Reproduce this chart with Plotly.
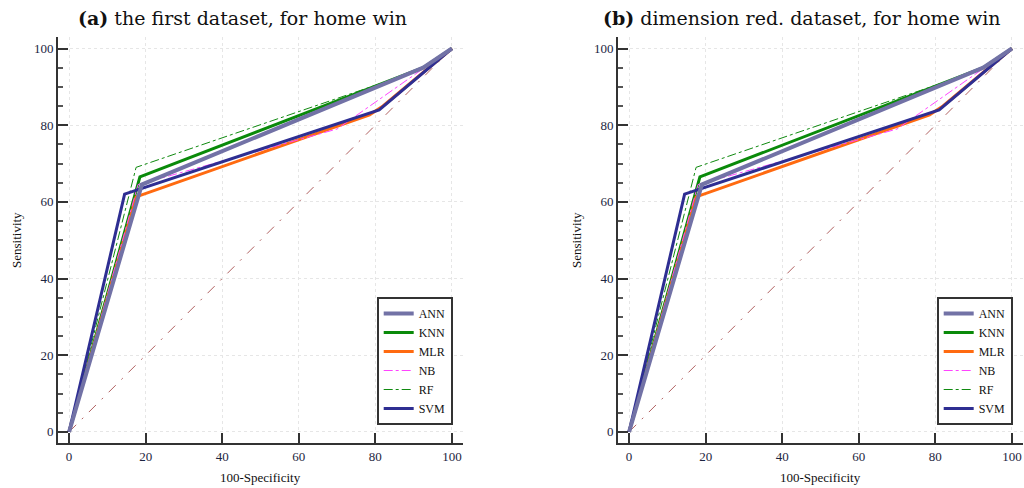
import plotly.graph_objects as go

# ---------------- data ----------------
classifiers = ["ANN", "KNN", "MLR", "NB", "RF", "SVM"]

ann_x = [0, 19.0, 92.5, 100]
ann_y = [0, 64.5, 95.0, 100]
knn_x = [0, 18.5, 92.5, 100]
knn_y = [0, 66.5, 95.0, 100]
mlr_x = [0, 17.5, 78.5, 82.0, 100]
mlr_y = [0, 61.3, 82.7, 85.0, 100]
nb_x = [0, 18.0, 70.0, 100]
nb_y = [0, 64.5, 79.0, 100]
rf_x = [0, 17.5, 92.0, 100]
rf_y = [0, 69.0, 94.5, 100]
svm_x = [0, 14.5, 81.0, 100]
svm_y = [0, 62.0, 84.0, 100]
ref_x = [0, 100]
ref_y = [0, 100]

tick_vals = [0, 20, 40, 60, 80, 100]
panel_titles = ["<b>(a)</b> the first dataset, for home win",
                "<b>(b)</b> dimension red. dataset, for home win"]
x_title = "100-Specificity"
y_title = "Sensitivity"

series = {
    "ANN": (ann_x, ann_y),
    "KNN": (knn_x, knn_y),
    "MLR": (mlr_x, mlr_y),
    "NB": (nb_x, nb_y),
    "RF": (rf_x, rf_y),
    "SVM": (svm_x, svm_y),
}

styles = {
    "ANN": dict(color="#7272a6", width=4, dash="solid"),
    "KNN": dict(color="#0a8a0a", width=3, dash="solid"),
    "MLR": dict(color="#ff6a10", width=3, dash="solid"),
    "NB": dict(color="#ff44ff", width=1, dash="dashdot"),
    "RF": dict(color="#108a10", width=1, dash="dashdot"),
    "SVM": dict(color="#2e2e92", width=3, dash="solid"),
}
draw_order = ["KNN", "MLR", "NB", "RF", "SVM", "ANN"]

W, H = 1024, 488
SERIF = "Liberation Serif, Times New Roman, serif"
TITLE_SERIF = "DejaVu Serif, serif"
LABEL_COLOR = "#1c2540"
AXIS_COLOR = "#333333"

fig = go.Figure()

panels = [
    dict(xa="x", ya="y", legend="legend", x0=58, x1=463),
    dict(xa="x2", ya="y2", legend="legend2", x0=618, x1=1023),
]
y_top_px, y_bot_px = 37, 443

for p in panels:
    fig.add_trace(go.Scatter(x=ref_x, y=ref_y, mode="lines", showlegend=False,
                             line=dict(color="#b06060", width=1, dash="10px,8px,2px,8px"),
                             xaxis=p["xa"], yaxis=p["ya"], hoverinfo="skip"))
    for name in draw_order:
        xs, ys = series[name]
        st = styles[name]
        fig.add_trace(go.Scatter(
            x=xs, y=ys, mode="lines", name=name,
            line=dict(color=st["color"], width=st["width"], dash=st["dash"]),
            legend=p["legend"], legendrank=classifiers.index(name) + 1,
            xaxis=p["xa"], yaxis=p["ya"]))

def xaxis_cfg(x0, x1, anchor):
    return dict(domain=[x0 / W, x1 / W], range=[-2.9, 102.9], anchor=anchor,
                showline=True, linecolor=AXIS_COLOR, linewidth=2,
                ticks="inside", ticklen=10, tickwidth=2, tickcolor=AXIS_COLOR,
                tickvals=tick_vals, showgrid=True, gridcolor="#e6e6e6",
                griddash="dot", gridwidth=1, zeroline=False,
                tickfont=dict(family=SERIF, size=13, color=LABEL_COLOR))

def yaxis_cfg(anchor):
    return dict(domain=[1 - y_bot_px / H, 1 - y_top_px / H], range=[-2.9, 103],
                anchor=anchor, showline=True, linecolor=AXIS_COLOR, linewidth=2,
                ticks="inside", ticklen=10, tickwidth=2, tickcolor=AXIS_COLOR,
                tickvals=tick_vals, showgrid=True, gridcolor="#e6e6e6",
                griddash="dot", gridwidth=1, zeroline=False,
                minor=dict(dtick=5, ticks="inside", ticklen=5, tickwidth=1.5,
                           tickcolor="#555555", showgrid=False),
                tickfont=dict(family=SERIF, size=13, color=LABEL_COLOR))

legend_common = dict(xanchor="right", yanchor="top", bgcolor="white",
                     bordercolor=AXIS_COLOR, borderwidth=2, itemwidth=30,
                     font=dict(family=SERIF, size=12, color="#111111"),
                     tracegroupgap=0)

fig.update_layout(
    width=W, height=H, margin=dict(l=0, r=0, t=0, b=0),
    paper_bgcolor="white", plot_bgcolor="white",
    xaxis=xaxis_cfg(58, 463, "y"),
    yaxis=yaxis_cfg("x"),
    xaxis2=xaxis_cfg(618, 1023, "y2"),
    yaxis2=yaxis_cfg("x2"),
    legend=dict(x=452.7 / W, y=1 - 297 / H, **legend_common),
    legend2=dict(x=1012.7 / W, y=1 - 297 / H, **legend_common),
    showlegend=True,
)

annotations = []
for title, cx in zip(panel_titles, [242, 801]):
    annotations.append(dict(text=title, x=cx / W, y=1 - 18 / H, xref="paper", yref="paper",
                            xanchor="center", yanchor="middle", showarrow=False,
                            font=dict(family=TITLE_SERIF, size=19, color="#111111")))
for p in panels:
    annotations.append(dict(text=x_title, x=(p["x0"] + p["x1"]) / 2 / W, y=1 - 477 / H,
                            xref="paper", yref="paper", xanchor="center", yanchor="middle",
                            showarrow=False, font=dict(family=SERIF, size=13, color="#111111")))
    annotations.append(dict(text=y_title, x=(p["x0"] - 42) / W, y=1 - 240 / H,
                            xref="paper", yref="paper", xanchor="center", yanchor="middle",
                            textangle=-90, showarrow=False,
                            font=dict(family=SERIF, size=13, color="#111111")))
fig.update_layout(annotations=annotations)

fig.write_html("out.html", config={"displayModeBar": False},
               post_script="document.body.style.margin='0px';document.body.style.overflow='hidden';")
